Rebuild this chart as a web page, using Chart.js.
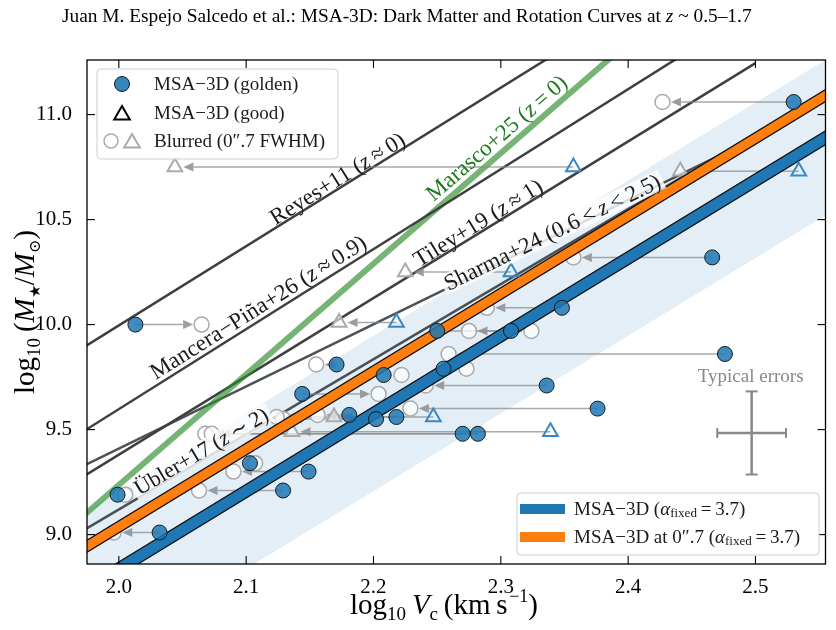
<!DOCTYPE html>
<html>
<head>
<meta charset="utf-8">
<script src="https://cdn.jsdelivr.net/npm/chart.js@4.4.1/dist/chart.umd.min.js"></script>
<style>
  html, body { margin: 0; padding: 0; background: #fff; }
</style>
</head>
<body>
<canvas id="tf" width="836" height="630"></canvas>
<script>
"use strict";

// golden sample: log Vc, log M*, and log Vc after 0".7 blurring
const V_GOLD = [2.013, 2.530, 2.466, 2.348, 2.250, 2.308, 2.476, 2.255, 2.171, 2.208, 2.144, 2.336,
                2.376, 2.181, 2.202, 2.218, 2.270, 2.282, 2.103, 2.149, 2.129, 1.999, 2.032];
const M_GOLD = [10.00, 11.06, 10.32, 10.08, 9.97, 9.97, 9.86, 9.79, 9.81, 9.76, 9.67, 9.71,
                9.60, 9.57, 9.55, 9.56, 9.48, 9.48, 9.34, 9.30, 9.21, 9.19, 9.01];
const V_GOLD_BLUR = [2.065, 2.427, 2.357, 2.289, 2.324, 2.275, 2.259, 2.273, 2.155, 2.222, 2.204, 2.241,
                     2.229, 2.156, 2.129, 2.124, 2.068, 2.073, 2.107, 2.090, 2.063, 2.005, 1.996];

// good sample
const V_GOOD = [2.357, 2.534, 2.308, 2.218, 2.247, 2.339];
const M_GOOD = [10.75, 10.73, 10.25, 10.01, 9.56, 9.49];
const V_GOOD_BLUR = [2.044, 2.441, 2.225, 2.173, 2.169, 2.136];

// literature relations, evaluated at the two ends of REL_V
const REL_NAMES = ["Reyes+11", "Mancera-Piña+26", "Marasco+25", "Tiley+19", "Sharma+24", "Übler+17"];
const REL_V = [1.95, 2.5];
const REL_M_LO = [9.807, 9.407, 8.973, 9.194, 9.262, 8.941];
const REL_M_HI = [11.883, 11.502, 11.870, 11.245, 10.889, 10.908];

// MSA-3D fits (alpha fixed = 3.7) and scatter band
const FIT_V = [1.95, 2.6];
const FIT_M = [8.652, 11.057];
const FIT_BLUR_M = [8.852, 11.257];
const FIT_SCATTER = 0.37;

const X_TICKS = [2.0, 2.1, 2.2, 2.3, 2.4, 2.5];
const Y_TICKS = [9.0, 9.5, 10.0, 10.5, 11.0];

// typical error bar
const ERR_V = 2.497, ERR_M = 9.484, ERR_DV = 0.027, ERR_DM = 0.198;

const SERIF = '"Liberation Serif", "Times New Roman", "DejaVu Serif", serif';
const BLUE = "#1f77b4", ORANGE = "#ff7f0e";

const pts = (xs, ys) => xs.map((x, i) => ({ x: x, y: ys[i] }));

function lineSet(label, xs, ys, color, width, order) {
    return { label: label, data: pts(xs, ys), showLine: true, borderColor: color, borderWidth: width,
             pointRadius: 0, fill: false, order: order, clip: 0 };
}

// rich text: parts are [text, size, italic, dy]
function fnt(sz, it) { return (it ? "italic " : "") + sz + "px " + SERIF; }
function richWidth(ctx, parts) {
    let w = 0;
    for (const p of parts) { ctx.font = fnt(p[1], p[2]); w += ctx.measureText(p[0]).width; }
    return w;
}
function drawRich(ctx, parts, x, y, align) {
    const w = richWidth(ctx, parts);
    let cx = align === "center" ? x - w / 2 : align === "right" ? x - w : x;
    for (const p of parts) {
        ctx.font = fnt(p[1], p[2]);
        ctx.fillText(p[0], cx, y + (p[3] || 0));
        cx += ctx.measureText(p[0]).width;
    }
    return w;
}
function seg(ctx, x0, y0, x1, y1) { ctx.beginPath(); ctx.moveTo(x0, y0); ctx.lineTo(x1, y1); ctx.stroke(); }

function lineLabel(ctx, chart, i, vAt, off, parts, color, bg) {
    const xs = chart.scales.x, ys = chart.scales.y;
    const x0 = xs.getPixelForValue(REL_V[0]), y0 = ys.getPixelForValue(REL_M_LO[i]);
    const x1 = xs.getPixelForValue(REL_V[1]), y1 = ys.getPixelForValue(REL_M_HI[i]);
    const ang = Math.atan2(y1 - y0, x1 - x0);
    const px = xs.getPixelForValue(vAt);
    const py = y0 + (y1 - y0) * (px - x0) / (x1 - x0);
    ctx.save();
    ctx.translate(px, py);
    ctx.rotate(ang);
    ctx.translate(0, -off);
    ctx.textBaseline = "middle";
    const w = richWidth(ctx, parts);
    if (bg) {
        ctx.fillStyle = "rgba(255,255,255,0.8)";
        ctx.fillRect(-w / 2 - 3, -10, w + 6, 20);
    }
    ctx.fillStyle = color;
    drawRich(ctx, parts, 0, 1, "center");
    ctx.restore();
}

function drawArrows(chart) {
    const ctx = chart.ctx, xs = chart.scales.x, ys = chart.scales.y;
    const a = chart.chartArea;
    const all = [[V_GOLD, M_GOLD, V_GOLD_BLUR], [V_GOOD, M_GOOD, V_GOOD_BLUR]];
    ctx.save();
    ctx.beginPath();
    ctx.rect(a.left, a.top, a.right - a.left, a.bottom - a.top);
    ctx.clip();
    ctx.strokeStyle = "rgba(140,140,140,0.75)";
    ctx.fillStyle = "rgba(140,140,140,0.85)";
    ctx.lineWidth = 1.5;
    for (const [vs, ms, vb] of all) {
        for (let i = 0; i < vs.length; i++) {
            const p0 = xs.getPixelForValue(vs[i]), p1 = xs.getPixelForValue(vb[i]);
            const py = ys.getPixelForValue(ms[i]);
            const d = Math.sign(p1 - p0);
            if (Math.abs(p1 - p0) < 20) continue;
            const tip = p1 - d * 8.5;
            const base = tip - d * 10;
            seg(ctx, p0, py, base, py);
            ctx.beginPath();
            ctx.moveTo(tip, py);
            ctx.lineTo(base, py - 4.5);
            ctx.lineTo(base, py + 4.5);
            ctx.closePath();
            ctx.fill();
        }
    }
    ctx.restore();
}

const decorations = {
    id: "decorations",
    beforeDatasetDraw(chart, args) {
        if (chart.data.datasets[args.index].kind === "blurT") drawArrows(chart);
    },
    afterDraw(chart) {
        const ctx = chart.ctx, xs = chart.scales.x, ys = chart.scales.y;
        const a = chart.chartArea;

        // labels along the relations
        const dark = "#1a1a1a", L = 23;
        lineLabel(ctx, chart, 0, 2.1755, 9, [["Reyes+11 (", L], ["z", L, true], ["\u2009≈\u20090)", L]], dark, false);
        lineLabel(ctx, chart, 1, 2.1145, 12, [["Mancera−Piña+26 (", L], ["z", L, true], ["\u2009≈\u20090.9)", L]], dark, false);
        lineLabel(ctx, chart, 2, 2.3040, 14, [["Marasco+25 (", L], ["z", L, true], ["\u2009=\u20090)", L]], "#1e7a1e", false);
        lineLabel(ctx, chart, 3, 2.2860, 9, [["Tiley+19 (", L], ["z", L, true], ["\u2009≈\u20091)", L]], dark, false);
        lineLabel(ctx, chart, 4, 2.3418, 4, [["Sharma+24 (0.6\u2009<\u2009", L], ["z", L, true], ["\u2009<\u20092.5)", L]], dark, true);
        lineLabel(ctx, chart, 5, 2.0680, 8, [["Übler+17 (", 22], ["z", 22, true], ["\u2009∼\u20092)", 22]], dark, true);

        // frame and inward ticks
        ctx.save();
        ctx.strokeStyle = "#000";
        ctx.lineWidth = 1.3;
        ctx.strokeRect(a.left, a.top, a.right - a.left, a.bottom - a.top);
        ctx.lineWidth = 1.1;
        for (const v of X_TICKS) {
            const p = xs.getPixelForValue(v);
            seg(ctx, p, a.bottom, p, a.bottom - 8);
            seg(ctx, p, a.top, p, a.top + 8);
        }
        for (const v of Y_TICKS) {
            const p = ys.getPixelForValue(v);
            seg(ctx, a.left, p, a.left + 8, p);
            seg(ctx, a.right, p, a.right - 8, p);
        }

        // typical errors
        const ex = xs.getPixelForValue(ERR_V), ey = ys.getPixelForValue(ERR_M);
        const ex0 = xs.getPixelForValue(ERR_V - ERR_DV), ex1 = xs.getPixelForValue(ERR_V + ERR_DV);
        const ey0 = ys.getPixelForValue(ERR_M - ERR_DM), ey1 = ys.getPixelForValue(ERR_M + ERR_DM);
        ctx.strokeStyle = "#888";
        ctx.lineWidth = 2.5;
        seg(ctx, ex0, ey, ex1, ey);
        seg(ctx, ex, ey0, ex, ey1);
        ctx.lineWidth = 2;
        seg(ctx, ex0, ey - 5, ex0, ey + 5);
        seg(ctx, ex1, ey - 5, ex1, ey + 5);
        seg(ctx, ex - 6, ey0, ex + 6, ey0);
        seg(ctx, ex - 6, ey1, ex + 6, ey1);
        ctx.fillStyle = "#888";
        ctx.textBaseline = "middle";
        drawRich(ctx, [["Typical errors", 19]], ex - 1, ey1 - 14, "center");

        // legend for the samples
        function box(x, y, w, h) {
            ctx.beginPath();
            ctx.roundRect(x, y, w, h, 4);
            ctx.fillStyle = "rgba(255,255,255,0.85)";
            ctx.fill();
            ctx.strokeStyle = "#cfcfcf";
            ctx.lineWidth = 1;
            ctx.stroke();
        }
        box(97, 69, 241, 90);
        ctx.lineWidth = 1;
        ctx.beginPath();
        ctx.arc(122, 84, 7.5, 0, Math.PI * 2);
        ctx.fillStyle = "rgba(31,119,180,0.9)";
        ctx.fill();
        ctx.strokeStyle = "#1a1a1a";
        ctx.stroke();
        function tri(cx, cy, r, col) {
            ctx.beginPath();
            ctx.moveTo(cx, cy - r);
            ctx.lineTo(cx + r * 0.866, cy + r * 0.5);
            ctx.lineTo(cx - r * 0.866, cy + r * 0.5);
            ctx.closePath();
            ctx.strokeStyle = col;
            ctx.lineWidth = 2;
            ctx.stroke();
        }
        tri(122, 115, 9, "#000");
        ctx.beginPath();
        ctx.arc(111, 141, 7, 0, Math.PI * 2);
        ctx.strokeStyle = "#aaa";
        ctx.lineWidth = 1.5;
        ctx.stroke();
        tri(132, 143, 9, "#aaa");
        ctx.fillStyle = "#1a1a1a";
        ctx.textBaseline = "middle";
        drawRich(ctx, [["MSA−3D (golden)", 19]], 154, 85, "left");
        drawRich(ctx, [["MSA−3D (good)", 19]], 154, 114, "left");
        drawRich(ctx, [["Blurred (0″.7 FWHM)", 19]], 154, 142, "left");

        // legend for the fits
        box(517, 493, 302, 62);
        ctx.lineWidth = 10;
        ctx.strokeStyle = BLUE;
        seg(ctx, 520, 509, 565, 509);
        ctx.strokeStyle = ORANGE;
        seg(ctx, 520, 537, 565, 537);
        ctx.fillStyle = "#1a1a1a";
        ctx.textBaseline = "middle";
        drawRich(ctx, [["MSA−3D (", 19], ["α", 19, true], ["fixed", 13, false, 4], ["\u2009=\u20093.7)", 19]], 574, 510, "left");
        drawRich(ctx, [["MSA−3D at 0″.7 (", 19], ["α", 19, true], ["fixed", 13, false, 4], ["\u2009=\u20093.7)", 19]], 574, 538, "left");

        // axis titles
        ctx.fillStyle = "#000";
        ctx.textBaseline = "alphabetic";
        drawRich(ctx, [["log", 29], ["10", 19, false, 6], ["\u2009", 29], ["V", 29, true], ["c", 19, false, 6],
                       ["\u2009(km\u2009s", 29], ["\u200a−1", 18, false, -12], [")", 29]], 444, 614, "center");
        ctx.save();
        ctx.translate(34, 312);
        ctx.rotate(-Math.PI / 2);
        drawRich(ctx, [["log", 29], ["10", 19, false, 6], ["\u2009(", 29], ["M", 29, true], ["★", 15, false, 6],
                       ["/", 29], ["M", 29, true], ["⊙", 16, false, 6], [")", 29]], 0, 0, "center");
        ctx.restore();

        // running header
        const head = [["Juan M. Espejo Salcedo et al.: MSA-3D: Dark Matter and Rotation Curves at ", 16], ["z", 16, true], [" ~ 0.5–1.7", 16]];
        const sz = 16 * 690 / richWidth(ctx, head);
        drawRich(ctx, head.map(p => [p[0], sz, p[2]]), 62, 22, "left");
        ctx.restore();
    }
};

const bandHi = FIT_M.map(m => m + FIT_SCATTER);
const bandLo = FIT_M.map(m => m - FIT_SCATTER);

const relColors = ["#3f3f3f", "#3f3f3f", "rgba(44,140,44,0.65)", "#3f3f3f", "#4b5157", "#4b5157"];
const relWidths = [2.5, 2.5, 6, 2.5, 2.5, 2.5];
const relSets = REL_NAMES.map((n, i) => lineSet(n, REL_V, [REL_M_LO[i], REL_M_HI[i]], relColors[i], relWidths[i], 20 + i));

const datasets = [
    { label: "scatter hi", data: pts(FIT_V, bandHi), showLine: true, borderWidth: 0, pointRadius: 0,
      backgroundColor: "rgba(31,119,180,0.12)", fill: "+1", order: 40, clip: 0 },
    { label: "scatter lo", data: pts(FIT_V, bandLo), showLine: true, borderWidth: 0, pointRadius: 0,
      fill: false, order: 41, clip: 0 },
    ...relSets,
    { label: "blurred good", kind: "blurT", data: pts(V_GOOD_BLUR, M_GOOD), showLine: false, pointStyle: "triangle",
      pointRadius: 8.5, pointBackgroundColor: "rgba(255,255,255,0.6)", pointBorderColor: "#aaa",
      pointBorderWidth: 2, order: 11, clip: 0 },
    { label: "blurred golden", kind: "blurC", data: pts(V_GOLD_BLUR, M_GOLD), showLine: false,
      pointRadius: 7.5, pointBackgroundColor: "rgba(255,255,255,0.7)", pointBorderColor: "#aaa",
      pointBorderWidth: 1.5, order: 10, clip: 0 },
    lineSet("blurred fit edge", FIT_V, FIT_BLUR_M, "#111", 11.5, 9),
    lineSet("MSA-3D at 0.7", FIT_V, FIT_BLUR_M, ORANGE, 9, 8),
    lineSet("fit edge", FIT_V, FIT_M, "#111", 13, 7),
    lineSet("MSA-3D", FIT_V, FIT_M, BLUE, 10.5, 6),
    { label: "good", data: pts(V_GOOD, M_GOOD), showLine: false, pointStyle: "triangle", pointRadius: 8.5,
      pointBackgroundColor: "rgba(0,0,0,0)", pointBorderColor: "#3a87c4", pointBorderWidth: 2, order: 2, clip: 0 },
    { label: "golden", data: pts(V_GOLD, M_GOLD), showLine: false, pointRadius: 7.5,
      pointBackgroundColor: "rgba(31,119,180,0.85)", pointBorderColor: "#1a1a1a", pointBorderWidth: 1,
      order: 1, clip: 0 }
];

const tickFont = { family: SERIF, size: 21 };

new Chart(document.getElementById("tf"), {
    type: "line",
    data: { datasets: datasets },
    options: {
        responsive: false,
        animation: false,
        events: [],
        layout: { padding: { top: 60, right: 7, left: 0, bottom: 0 } },
        elements: { line: { tension: 0 } },
        plugins: { legend: { display: false }, tooltip: { enabled: false } },
        scales: {
            x: {
                type: "linear", min: 1.975, max: 2.555,
                grid: { display: false }, border: { display: false },
                ticks: { font: tickFont, color: "#000", padding: 3, maxRotation: 0,
                         callback: v => v.toFixed(1) },
                afterBuildTicks: s => { s.ticks = X_TICKS.map(v => ({ value: v })); },
                afterFit: s => { s.height = 66; }
            },
            y: {
                type: "linear", min: 8.86, max: 11.26,
                grid: { display: false }, border: { display: false },
                ticks: { font: tickFont, color: "#000", padding: 7, callback: v => v.toFixed(1) },
                afterBuildTicks: s => { s.ticks = Y_TICKS.map(v => ({ value: v })); },
                afterFit: s => { s.width = 87; }
            }
        }
    },
    plugins: [decorations]
});
</script>
</body>
</html>
